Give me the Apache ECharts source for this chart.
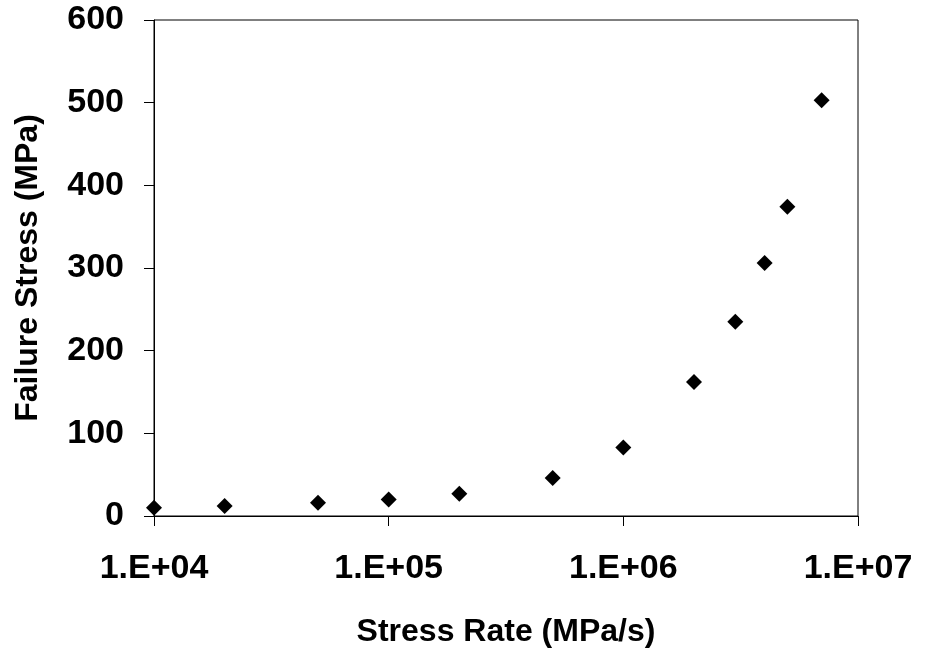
<!DOCTYPE html>
<html><head><meta charset="utf-8">
<script src="https://cdn.jsdelivr.net/npm/echarts@6/dist/echarts.min.js"></script>
<style>html,body{margin:0;padding:0;background:#fff}#c{width:928px;height:653px}</style>
</head><body><div id="c"></div>
<script>
const stressRate = [1e4, 2e4, 5e4, 1e5, 2e5, 5e5, 1e6, 2e6, 3e6, 4e6, 5e6, 7e6];
const failureStress = [10, 12, 16, 20, 27, 46, 83, 162, 235, 306, 374, 503];
const yTicks = [0, 100, 200, 300, 400, 500, 600];
const xTickLabels = ['1.E+04', '1.E+05', '1.E+06', '1.E+07'];

const tickFont = '"Liberation Sans", Arial, sans-serif';
const titleFont = '"Liberation Sans", Arial, sans-serif';
const chart = echarts.init(document.getElementById('c'));
chart.setOption({
  animation: false,
  grid: { left: 154, right: 70, top: 20, bottom: 136, show: true, borderColor: '#000', borderWidth: 1 },
  xAxis: {
    type: 'log', logBase: 10, min: 1e4, max: 1e7,
    name: 'Stress Rate (MPa/s)', nameLocation: 'middle', nameGap: 100,
    nameTextStyle: { fontFamily: titleFont, fontWeight: 'bold', fontSize: 32, color: '#000' },
    axisLine: { lineStyle: { color: '#000', width: 1 } },
    axisTick: { show: true, length: 10, lineStyle: { color: '#000' } },
    axisLabel: { margin: 36, fontFamily: tickFont, fontWeight: 'bold', fontSize: 34, color: '#000',
      formatter: v => { const e = Math.round(Math.log10(v)); return xTickLabels[e - 4] || ''; } },
    splitLine: { show: false }, minorTick: { show: false }
  },
  yAxis: {
    type: 'value', min: yTicks[0], max: yTicks[yTicks.length - 1], interval: 100,
    name: 'Failure Stress (MPa)', nameLocation: 'middle', nameGap: 110,
    nameTextStyle: { fontFamily: titleFont, fontWeight: 'bold', fontSize: 32, color: '#000' },
    axisLine: { show: true, lineStyle: { color: '#000', width: 1 } },
    axisTick: { show: true, length: 10, lineStyle: { color: '#000' } },
    axisLabel: { margin: 30, fontFamily: tickFont, fontWeight: 'bold', fontSize: 34, color: '#000' },
    splitLine: { show: false }
  },
  series: [{
    type: 'scatter', symbol: 'diamond', symbolSize: [16, 16],
    itemStyle: { color: '#000', opacity: 1 },
    data: stressRate.map((x, i) => [x, failureStress[i]])
  }]
});
</script></body></html>
